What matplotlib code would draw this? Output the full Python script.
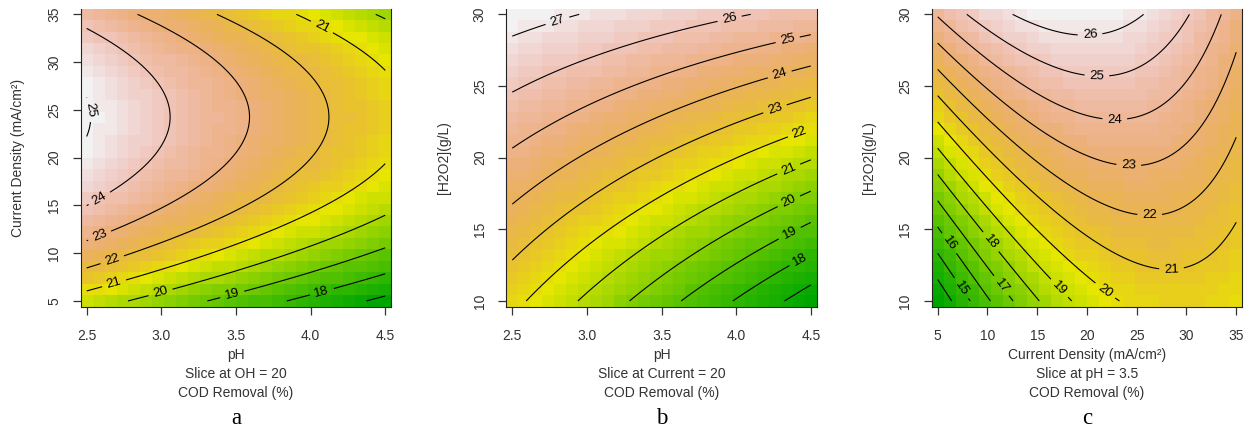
import colorsys
import numpy as np
import matplotlib.pyplot as plt
from matplotlib.colors import ListedColormap, Normalize

# second-order response model for COD removal (%), coded factors:
# A = (pH - 3.5) / 1, B = (current - 20) / 15, C = ([H2O2] - 20) / 10
terms = ["b0", "A", "B", "C", "AA", "BB", "CC", "AB", "AC", "BC"]
coefs = [22.95, -1.88, 1.56, 3.57, 0.0, -2.75, 0.0, 0.0, 1.01, -1.885]

factor_names = ["A", "B", "C"]
factor_centers = [3.5, 20, 20]
factor_halfwidths = [1.0, 15, 10]
factor_ranges = [[2.5, 4.5], [5, 35], [10, 30]]

# label positions for the contour numbers (data coords)
labels_a = [(2.515, 25.0), (2.59, 15.6), (2.59, 11.7), (2.68, 8.9), (2.69, 6.5),
            (3.0, 5.6), (3.48, 5.4), (4.08, 5.7), (4.07, 33.5)]
labels_b = [(2.81, 29.3), (3.96, 29.5), (4.35, 28.0), (4.3, 25.5), (4.27, 23.1),
            (4.43, 21.6), (4.36, 19.0), (4.36, 16.8), (4.37, 14.5), (4.44, 12.7)]
labels_c = [(20.3, 28.7), (21.0, 25.7), (22.8, 22.8), (24.2, 19.5), (26.3, 16.0),
            (28.5, 12.2), (21.7, 10.6), (17.1, 10.8), (10.3, 14.1), (11.3, 11.0),
            (5.7, 13.8), (7.2, 10.8)]

panels = [
    dict(xf="A", yf="B", fixed=("C", 20), xlab="pH", slice="Slice at OH = 20",
         ylab="Current Density (mA/cm²)", letter="a", labels=labels_a,
         xticks=[2.5, 3.0, 3.5, 4.0, 4.5], yticks=[5, 10, 15, 20, 25, 30, 35], xfmt="%.1f"),
    dict(xf="A", yf="C", fixed=("B", 20), xlab="pH", slice="Slice at Current = 20",
         ylab="[H2O2](g/L)", letter="b", labels=labels_b,
         xticks=[2.5, 3.0, 3.5, 4.0, 4.5], yticks=[10, 15, 20, 25, 30], xfmt="%.1f"),
    dict(xf="B", yf="C", fixed=("A", 3.5), xlab="Current Density (mA/cm²)",
         slice="Slice at pH = 3.5", ylab="[H2O2](g/L)", letter="c", labels=labels_c,
         xticks=[5, 10, 15, 20, 25, 30, 35], yticks=[10, 15, 20, 25, 30], xfmt="%d"),
]


def predict(vals):
    A, B, C = [(vals[f] - c) / h for f, c, h in
               zip(factor_names, factor_centers, factor_halfwidths)]
    parts = [1, A, B, C, A * A, B * B, C * C, A * B, A * C, B * C]
    return sum(k * p for k, p in zip(coefs, parts))


def terrain_colors(n):
    # same ramp as R's terrain.colors()
    k = n // 2
    cols = []
    for h, v in zip(np.linspace(4 / 12, 2 / 12, k), np.linspace(0.65, 0.9, k)):
        cols.append(colorsys.hsv_to_rgb(h, 1.0, v))
    m = n - k + 1
    for h, s, v in zip(np.linspace(2 / 12, 0, m)[1:], np.linspace(1, 0, m)[1:],
                       np.linspace(0.9, 0.95, m)[1:]):
        cols.append(colorsys.hsv_to_rgb(h, s, v))
    return ListedColormap(cols)


cmap = terrain_colors(50)
plt.rcParams['font.family'] = ['Liberation Sans', 'DejaVu Sans']
txt = '#333333'
fs = 10

W, H = 1255, 429
fig = plt.figure(figsize=(12.55, 4.29), dpi=100)
lefts = [80.7, 506.3, 931.7]
ylab_x = [18, 444, 869]
top_px, bot_px, width_px = 8.6, 306.7, 310.5

for p, left, ylx in zip(panels, lefts, ylab_x):
    ax = fig.add_axes([left / W, 1 - bot_px / H, width_px / W, (bot_px - top_px) / H])
    xi = factor_names.index(p["xf"])
    yi = factor_names.index(p["yf"])
    xr, yr = factor_ranges[xi], factor_ranges[yi]

    # coarse 26x26 grid for the image, like rsm draws it
    gx = np.linspace(xr[0], xr[1], 26)
    gy = np.linspace(yr[0], yr[1], 26)
    GX, GY = np.meshgrid(gx, gy)
    Z = predict({p["xf"]: GX, p["yf"]: GY, p["fixed"][0]: p["fixed"][1]})
    ax.pcolormesh(gx, gy, Z, cmap=cmap, norm=Normalize(Z.min(), Z.max()),
                  shading='nearest')

    fx = np.linspace(xr[0], xr[1], 80)
    fy = np.linspace(yr[0], yr[1], 80)
    FX, FY = np.meshgrid(fx, fy)
    FZ = predict({p["xf"]: FX, p["yf"]: FY, p["fixed"][0]: p["fixed"][1]})
    levels = np.arange(np.ceil(Z.min()), np.floor(Z.max()) + 1)
    cs = ax.contour(FX, FY, FZ, levels=levels, colors='black', linewidths=0.8)
    ax.clabel(cs, inline=True, fontsize=9.5, fmt='%d', manual=p["labels"],
              inline_spacing=5)

    dx = (xr[1] - xr[0]) / 50
    dy = (yr[1] - yr[0]) / 50
    ax.set_xlim(xr[0] - dx, xr[1] + dx)
    ax.set_ylim(yr[0] - dy, yr[1] + dy)

    ax.set_xticks(p["xticks"])
    ax.set_xticklabels([p["xfmt"] % t for t in p["xticks"]])
    ax.set_yticks(p["yticks"])
    ax.set_yticklabels([str(t) for t in p["yticks"]], rotation=90, va='center')
    ax.tick_params(axis='x', length=6, width=0.9, pad=10, labelsize=fs, colors=txt)
    ax.tick_params(axis='y', length=6, width=0.9, pad=8, labelsize=fs, colors=txt)
    ax.spines['top'].set_visible(False)
    for s in ['left', 'bottom', 'right']:
        ax.spines[s].set_linewidth(0.8)
        ax.spines[s].set_color('#222222')

    cx = (left + width_px / 2) / W
    fig.text(cx, 1 - 355 / H, p["xlab"], ha='center', va='center', fontsize=fs, color=txt)
    fig.text(cx, 1 - 374 / H, p["slice"], ha='center', va='center', fontsize=fs, color=txt)
    fig.text(cx, 1 - 393 / H, "COD Removal (%)", ha='center', va='center', fontsize=fs,
             color=txt)
    fig.text(cx, 1 - 424 / H, p["letter"], ha='center', va='baseline', fontsize=16.5,
             family='Liberation Serif')
    fig.text(ylx / W, 1 - (top_px + bot_px) / 2 / H, p["ylab"], rotation=90,
             ha='center', va='center', fontsize=fs, color=txt)

fig.savefig("out.png", dpi=100)
